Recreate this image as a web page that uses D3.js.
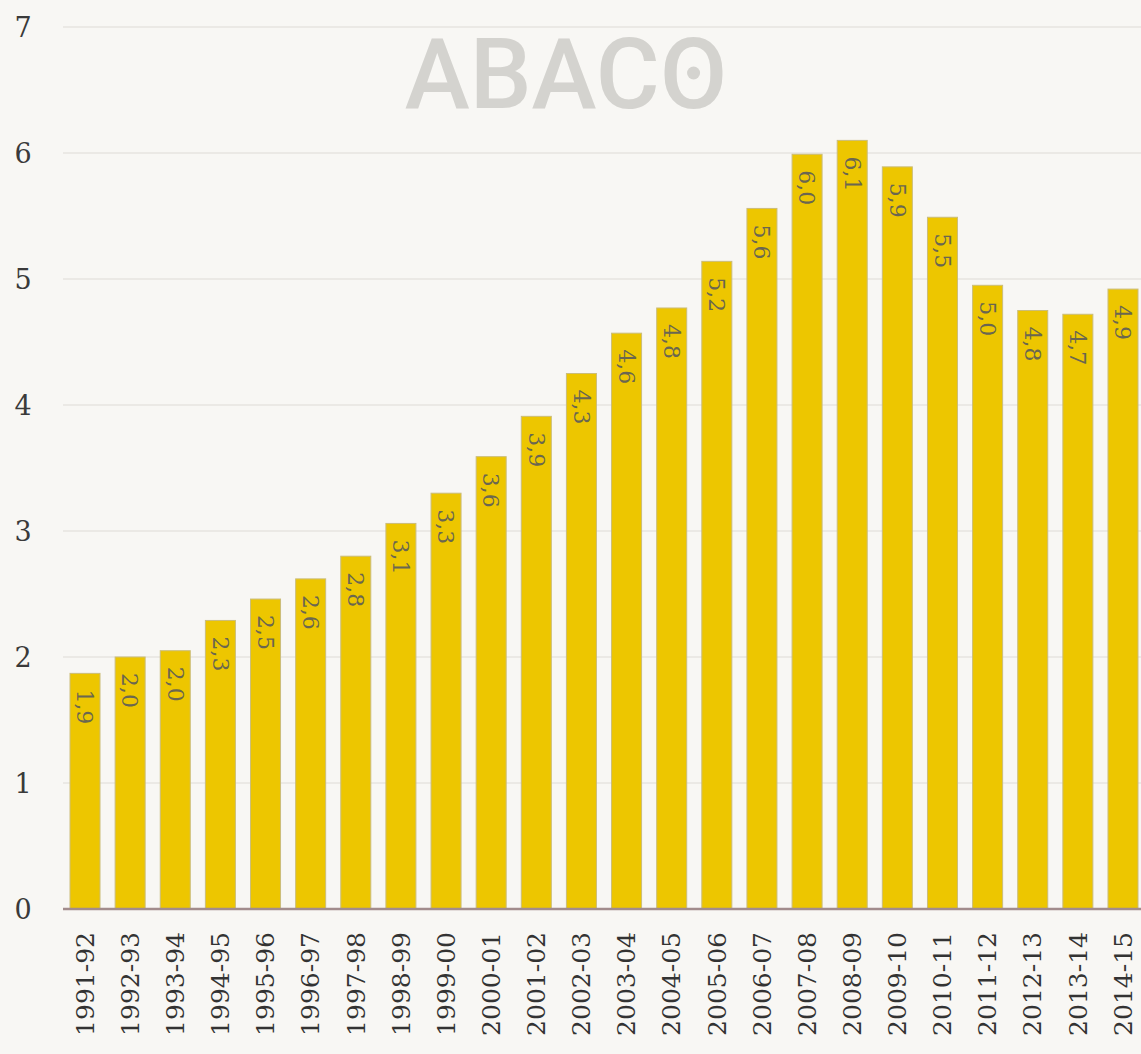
<!DOCTYPE html>
<html>
<head>
<meta charset="utf-8">
<script src="https://cdn.jsdelivr.net/npm/d3@7"></script>
<style>
  html, body { margin: 0; padding: 0; background: #f8f7f4; }
  svg { display: block; }
</style>
</head>
<body>
<svg id="chart" width="1141" height="1054"></svg>
<script>
const categories = ["1991-92","1992-93","1993-94","1994-95","1995-96","1996-97","1997-98","1998-99","1999-00","2000-01","2001-02","2002-03","2003-04","2004-05","2005-06","2006-07","2007-08","2008-09","2009-10","2010-11","2011-12","2012-13","2013-14","2014-15"];
const values = [1.87, 2.0, 2.05, 2.29, 2.46, 2.62, 2.80, 3.06, 3.30, 3.59, 3.91, 4.25, 4.57, 4.77, 5.14, 5.56, 5.99, 6.10, 5.89, 5.49, 4.95, 4.75, 4.72, 4.92];
const labels = ["1,9","2,0","2,0","2,3","2,5","2,6","2,8","3,1","3,3","3,6","3,9","4,3","4,6","4,8","5,2","5,6","6,0","6,1","5,9","5,5","5,0","4,8","4,7","4,9"];
const yTicks = [0, 1, 2, 3, 4, 5, 6, 7];

const svg = d3.select("#chart");
const W = 1141, H = 1054;
const m = { left: 70, right: 3, top: 27, bottom: 145 };
const gridLeft = 63;
const serif = "'DejaVu Serif', serif";

svg.append("rect").attr("width", W).attr("height", H).attr("fill", "#f8f7f4");

const x = d3.scaleBand().domain(categories).range([m.left, W - m.right]).paddingInner(0.335).paddingOuter(0);
const y = d3.scaleLinear().domain([0, 7]).range([H - m.bottom, m.top]);

// gridlines
svg.append("g").selectAll("line").data(yTicks.filter(d => d > 0)).join("line")
  .attr("x1", gridLeft).attr("x2", W)
  .attr("y1", d => y(d)).attr("y2", d => y(d))
  .attr("stroke", "#e7e5e1").attr("stroke-width", 1.5);

// y tick labels
svg.append("g").selectAll("text").data(yTicks).join("text")
  .attr("x", 23).attr("y", d => y(d)).attr("dy", "0.36em")
  .attr("text-anchor", "middle")
  .attr("font-family", serif).attr("font-size", 27).attr("fill", "#3a3a3a")
  .text(d => d);

// logo
const logo = svg.append("g");
const logoText = logo.append("text")
  .attr("x", 566).attr("y", 108)
  .attr("text-anchor", "middle")
  .attr("font-family", "Roboto, sans-serif").attr("font-weight", 500)
  .attr("font-size", 98).attr("fill", "#d4d3cf")
  .text("ABACO");
let oBox;
try { oBox = logoText.node().getExtentOfChar(4); } catch (e) { oBox = null; }
if (oBox) {
  logo.append("circle")
    .attr("cx", oBox.x + oBox.width / 2)
    .attr("cy", 108 - 35)
    .attr("r", 6.5)
    .attr("fill", "#d4d3cf");
}

// bars
svg.append("g").selectAll("rect").data(values).join("rect")
  .attr("x", (d, i) => x(categories[i]))
  .attr("width", x.bandwidth())
  .attr("y", d => y(d))
  .attr("height", d => y(0) - y(d))
  .attr("fill", "#edc600")
  .attr("stroke", "#cbbd7a").attr("stroke-width", 1);

// bar value labels (rotated, reading downward)
svg.append("g").selectAll("text").data(values).join("text")
  .attr("transform", (d, i) => `translate(${x(categories[i]) + x.bandwidth() / 2}, ${y(d) + 16}) rotate(90)`)
  .attr("dy", "0.35em")
  .attr("text-anchor", "start")
  .attr("font-family", serif).attr("font-size", 22).attr("fill", "#6a6650")
  .text((d, i) => labels[i]);

// baseline
svg.append("line")
  .attr("x1", gridLeft).attr("x2", W)
  .attr("y1", y(0)).attr("y2", y(0))
  .attr("stroke", "#a28c8c").attr("stroke-width", 2.5);

// x labels (rotated, reading upward)
svg.append("g").selectAll("text").data(categories).join("text")
  .attr("transform", d => `translate(${x(d) + x.bandwidth() / 2}, 932) rotate(-90)`)
  .attr("dy", "0.35em")
  .attr("text-anchor", "end")
  .attr("font-family", serif).attr("font-size", 25).attr("fill", "#333333")
  .text(d => d);
</script>
</body>
</html>
